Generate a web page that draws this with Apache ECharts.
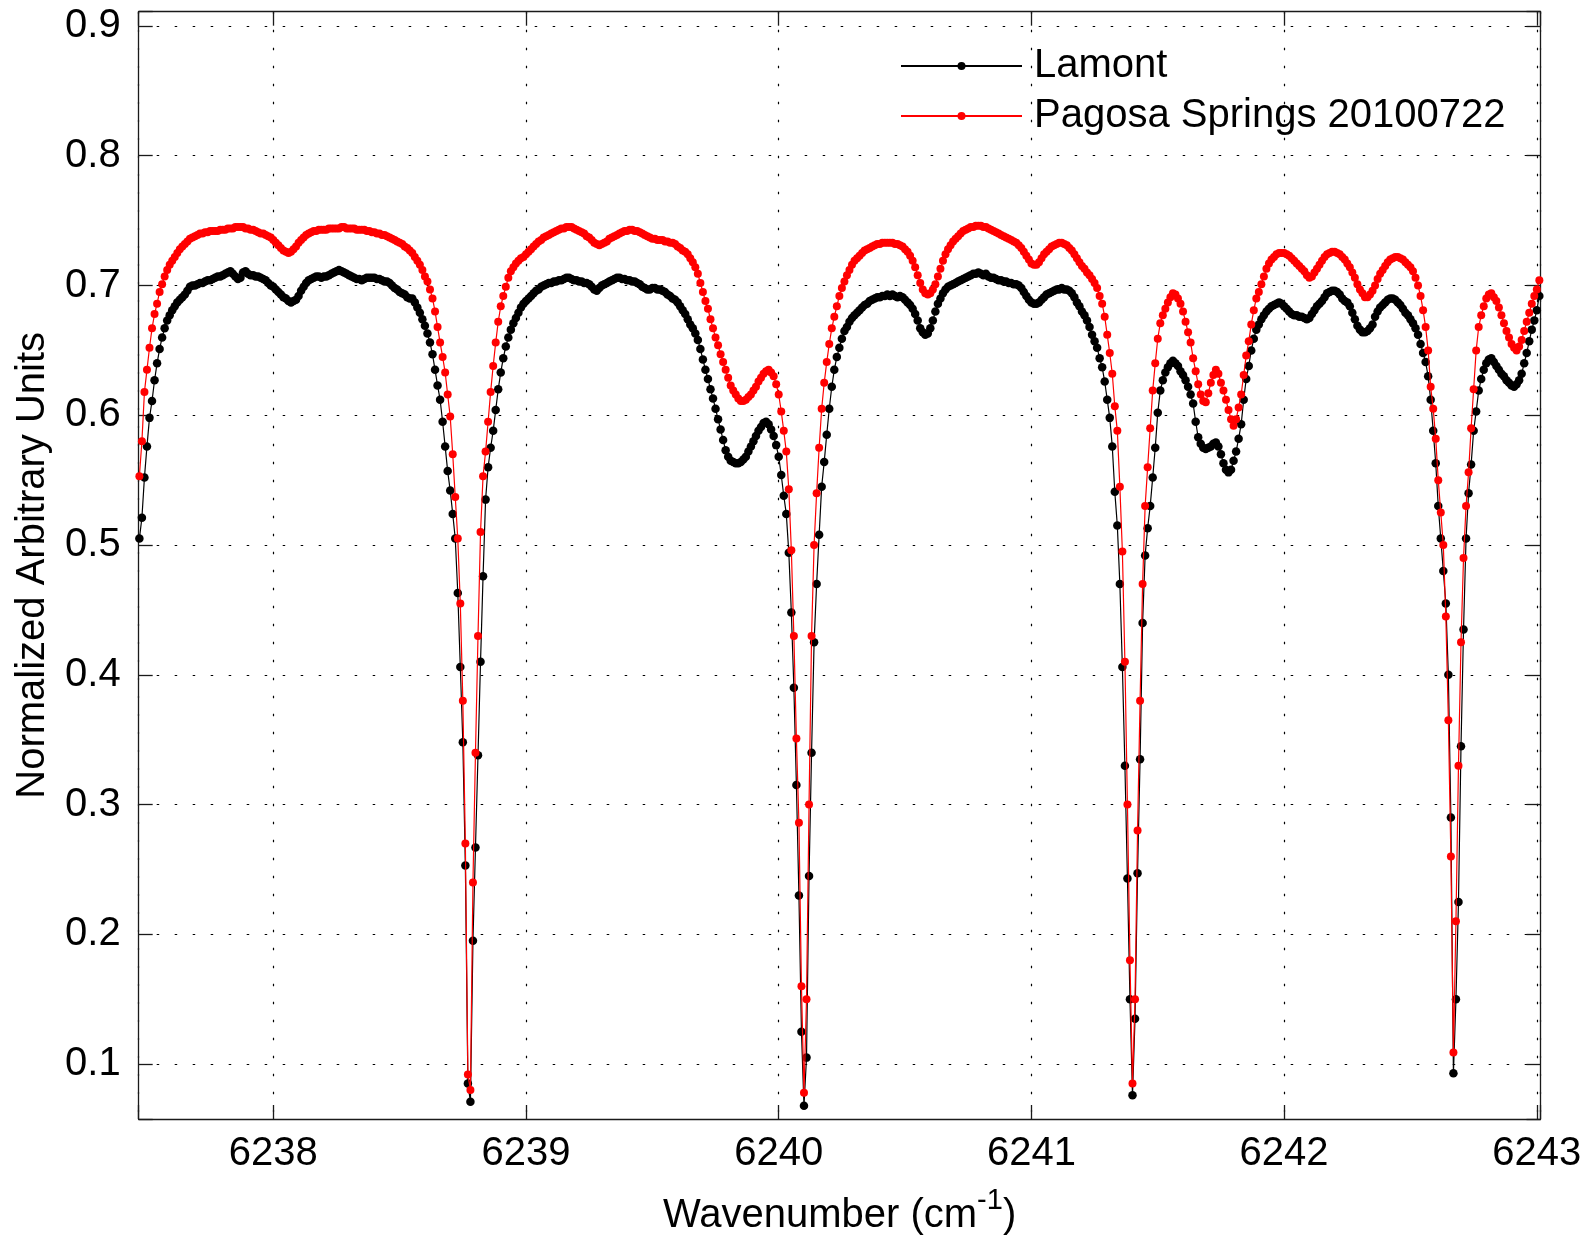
<!DOCTYPE html>
<html>
<head>
<meta charset="utf-8">
<script src="https://cdn.jsdelivr.net/npm/echarts@6/dist/echarts.min.js"></script>
<style>
html,body{margin:0;padding:0;background:#fff;}
#chart{width:1585px;height:1237px;}
</style>
</head>
<body>
<div id="chart"></div>
<script>
// Wavenumber grid (cm-1): regular spectral sampling
const X0 = 6237.47;
const DX = 0.01;

const seriesNames = ['Lamont', 'Pagosa Springs 20100722'];

// Lamont (black), one value per grid point
const lamont = [
0.505,0.521,0.552,0.576,0.598,0.611,0.627,0.640,0.651,0.660,
0.667,0.673,0.677,0.681,0.684,0.687,0.689,0.691,0.693,0.696,
0.699,0.700,0.700,0.701,0.702,0.702,0.703,0.704,0.704,0.705,
0.706,0.707,0.707,0.708,0.709,0.710,0.711,0.709,0.707,0.705,
0.706,0.710,0.711,0.709,0.708,0.708,0.707,0.707,0.706,0.705,
0.704,0.702,0.700,0.699,0.697,0.695,0.693,0.691,0.690,0.688,
0.687,0.688,0.689,0.692,0.696,0.699,0.702,0.704,0.705,0.706,
0.707,0.707,0.706,0.707,0.707,0.708,0.709,0.710,0.711,0.712,
0.711,0.710,0.709,0.708,0.707,0.706,0.705,0.705,0.704,0.705,
0.706,0.706,0.706,0.706,0.705,0.705,0.704,0.703,0.703,0.702,
0.700,0.698,0.697,0.695,0.694,0.693,0.691,0.690,0.690,0.687,
0.683,0.679,0.674,0.669,0.663,0.656,0.647,0.635,0.623,0.612,
0.595,0.576,0.557,0.542,0.524,0.505,0.463,0.406,0.348,0.253,
0.085,0.071,0.195,0.267,0.338,0.410,0.476,0.535,0.560,0.575,
0.588,0.604,0.620,0.633,0.644,0.653,0.660,0.666,0.671,0.675,
0.679,0.683,0.686,0.688,0.690,0.692,0.694,0.696,0.697,0.699,
0.700,0.701,0.702,0.702,0.703,0.703,0.704,0.704,0.705,0.706,
0.706,0.705,0.704,0.704,0.703,0.703,0.702,0.702,0.701,0.699,
0.697,0.696,0.698,0.700,0.701,0.702,0.703,0.704,0.705,0.706,
0.706,0.705,0.705,0.704,0.704,0.703,0.703,0.702,0.701,0.699,
0.698,0.697,0.697,0.698,0.698,0.697,0.697,0.696,0.695,0.693,
0.692,0.690,0.689,0.687,0.684,0.681,0.678,0.674,0.670,0.667,
0.663,0.658,0.651,0.643,0.635,0.628,0.620,0.613,0.605,0.597,
0.589,0.581,0.573,0.568,0.565,0.564,0.563,0.563,0.564,0.566,
0.568,0.572,0.576,0.580,0.584,0.588,0.591,0.594,0.595,0.593,
0.589,0.584,0.577,0.568,0.554,0.538,0.524,0.494,0.448,0.390,
0.315,0.230,0.125,0.068,0.105,0.245,0.340,0.425,0.470,0.508,
0.545,0.564,0.585,0.605,0.622,0.635,0.645,0.652,0.659,0.665,
0.668,0.672,0.675,0.677,0.679,0.681,0.683,0.685,0.686,0.688,
0.689,0.690,0.691,0.691,0.692,0.692,0.693,0.692,0.693,0.692,
0.691,0.692,0.691,0.689,0.687,0.685,0.682,0.678,0.673,0.667,
0.664,0.662,0.663,0.667,0.673,0.680,0.686,0.690,0.694,0.697,
0.699,0.700,0.701,0.702,0.703,0.704,0.705,0.706,0.707,0.708,
0.709,0.709,0.710,0.709,0.708,0.709,0.707,0.706,0.706,0.705,
0.704,0.704,0.703,0.703,0.702,0.702,0.701,0.701,0.700,0.698,
0.695,0.692,0.689,0.687,0.686,0.686,0.687,0.689,0.691,0.693,
0.694,0.695,0.696,0.697,0.697,0.698,0.697,0.697,0.696,0.694,
0.691,0.687,0.684,0.680,0.677,0.673,0.668,0.662,0.657,0.652,
0.644,0.637,0.626,0.612,0.598,0.576,0.541,0.515,0.470,0.406,
0.330,0.243,0.150,0.076,0.135,0.247,0.335,0.440,0.492,0.513,
0.530,0.552,0.575,0.602,0.619,0.627,0.633,0.637,0.640,0.642,
0.640,0.638,0.634,0.631,0.627,0.622,0.616,0.609,0.595,0.583,
0.578,0.575,0.574,0.575,0.576,0.578,0.579,0.576,0.570,0.563,
0.558,0.556,0.558,0.565,0.572,0.582,0.593,0.612,0.628,0.638,
0.650,0.659,0.666,0.670,0.674,0.677,0.680,0.682,0.684,0.685,
0.686,0.687,0.686,0.684,0.682,0.680,0.678,0.677,0.677,0.676,
0.676,0.675,0.674,0.675,0.678,0.681,0.684,0.686,0.688,0.691,
0.694,0.695,0.696,0.696,0.695,0.693,0.690,0.688,0.687,0.684,
0.679,0.674,0.669,0.666,0.664,0.664,0.665,0.667,0.670,0.676,
0.680,0.683,0.685,0.687,0.689,0.690,0.690,0.689,0.687,0.685,
0.682,0.679,0.677,0.674,0.671,0.667,0.662,0.655,0.648,0.641,
0.630,0.612,0.588,0.563,0.530,0.505,0.480,0.455,0.400,0.290,
0.093,0.150,0.225,0.345,0.435,0.505,0.540,0.562,0.588,0.603,
0.619,0.628,0.635,0.640,0.643,0.644,0.641,0.638,0.635,0.632,
0.630,0.627,0.625,0.623,0.622,0.624,0.627,0.632,0.640,0.648,
0.657,0.666,0.673,0.681,0.692
];

// Pagosa Springs 20100722 (red), one value per grid point
const pagosa = [
0.553,0.580,0.618,0.635,0.652,0.667,0.678,0.686,0.695,0.701,
0.707,0.712,0.716,0.719,0.722,0.725,0.728,0.730,0.732,0.734,
0.736,0.737,0.738,0.739,0.740,0.740,0.741,0.741,0.742,0.742,
0.742,0.742,0.743,0.743,0.743,0.744,0.744,0.744,0.745,0.745,
0.745,0.745,0.744,0.744,0.743,0.743,0.742,0.741,0.740,0.740,
0.739,0.738,0.737,0.735,0.733,0.731,0.729,0.727,0.726,0.725,
0.726,0.728,0.730,0.733,0.735,0.737,0.739,0.740,0.741,0.742,
0.742,0.743,0.743,0.743,0.743,0.744,0.744,0.744,0.744,0.744,
0.745,0.745,0.744,0.744,0.744,0.744,0.743,0.743,0.743,0.743,
0.742,0.742,0.741,0.741,0.740,0.740,0.739,0.739,0.738,0.737,
0.736,0.735,0.734,0.733,0.732,0.730,0.729,0.727,0.725,0.722,
0.719,0.716,0.712,0.707,0.703,0.697,0.690,0.680,0.668,0.656,
0.645,0.633,0.616,0.599,0.570,0.537,0.505,0.455,0.380,0.270,
0.092,0.080,0.240,0.340,0.430,0.510,0.553,0.572,0.595,0.618,
0.638,0.656,0.672,0.684,0.692,0.699,0.706,0.711,0.714,0.717,
0.719,0.721,0.722,0.724,0.726,0.728,0.730,0.732,0.734,0.735,
0.737,0.738,0.739,0.740,0.741,0.742,0.743,0.744,0.744,0.745,
0.745,0.745,0.744,0.743,0.742,0.741,0.740,0.738,0.737,0.735,
0.733,0.732,0.731,0.732,0.733,0.734,0.736,0.737,0.738,0.739,
0.740,0.741,0.742,0.742,0.743,0.743,0.742,0.742,0.741,0.740,
0.739,0.738,0.737,0.736,0.736,0.735,0.735,0.735,0.734,0.734,
0.733,0.733,0.732,0.730,0.729,0.727,0.726,0.724,0.721,0.718,
0.714,0.709,0.702,0.695,0.688,0.682,0.674,0.667,0.660,0.654,
0.647,0.641,0.635,0.629,0.623,0.619,0.616,0.613,0.611,0.611,
0.612,0.614,0.616,0.619,0.622,0.626,0.629,0.632,0.634,0.635,
0.633,0.630,0.624,0.616,0.603,0.588,0.572,0.543,0.496,0.430,
0.351,0.286,0.160,0.078,0.150,0.300,0.430,0.500,0.540,0.575,
0.605,0.625,0.641,0.655,0.667,0.676,0.684,0.692,0.698,0.703,
0.708,0.712,0.716,0.719,0.721,0.723,0.725,0.727,0.728,0.729,
0.730,0.731,0.732,0.732,0.733,0.733,0.733,0.733,0.733,0.732,
0.732,0.731,0.730,0.728,0.726,0.723,0.719,0.714,0.708,0.702,
0.697,0.694,0.693,0.694,0.697,0.701,0.707,0.713,0.719,0.724,
0.728,0.731,0.734,0.736,0.738,0.740,0.742,0.743,0.744,0.745,
0.745,0.746,0.746,0.746,0.745,0.745,0.744,0.743,0.742,0.741,
0.740,0.739,0.738,0.737,0.736,0.735,0.734,0.733,0.731,0.729,
0.726,0.723,0.720,0.717,0.716,0.716,0.718,0.721,0.724,0.726,
0.728,0.730,0.731,0.732,0.733,0.733,0.732,0.731,0.729,0.727,
0.724,0.721,0.718,0.715,0.713,0.710,0.708,0.705,0.702,0.698,
0.692,0.686,0.676,0.662,0.648,0.632,0.607,0.588,0.545,0.495,
0.410,0.300,0.180,0.085,0.150,0.280,0.380,0.470,0.530,0.560,
0.590,0.619,0.640,0.659,0.671,0.677,0.682,0.687,0.691,0.694,
0.693,0.690,0.686,0.680,0.672,0.664,0.656,0.644,0.634,0.624,
0.616,0.611,0.610,0.617,0.625,0.631,0.635,0.632,0.625,0.619,
0.612,0.604,0.597,0.592,0.597,0.606,0.616,0.631,0.646,0.657,
0.670,0.681,0.690,0.695,0.701,0.707,0.713,0.717,0.720,0.722,
0.724,0.725,0.725,0.725,0.724,0.723,0.721,0.719,0.717,0.715,
0.713,0.711,0.708,0.706,0.707,0.710,0.713,0.716,0.719,0.722,
0.724,0.725,0.726,0.726,0.725,0.724,0.722,0.720,0.717,0.714,
0.710,0.706,0.701,0.697,0.694,0.691,0.691,0.693,0.696,0.700,
0.705,0.709,0.712,0.715,0.718,0.720,0.721,0.722,0.722,0.721,
0.720,0.718,0.716,0.714,0.711,0.706,0.700,0.692,0.681,0.668,
0.650,0.622,0.605,0.582,0.550,0.525,0.500,0.445,0.365,0.260,
0.109,0.210,0.330,0.425,0.490,0.530,0.556,0.590,0.620,0.650,
0.668,0.677,0.684,0.690,0.693,0.694,0.691,0.688,0.683,0.677,
0.671,0.665,0.660,0.655,0.652,0.650,0.653,0.658,0.665,0.672,
0.679,0.686,0.692,0.697,0.704
];

// Axis ranges and labels
const xRange = [6237.4673, 6243.0146];
const yRange = [0.0577, 0.9110];
const xTickLabels = [6238, 6239, 6240, 6241, 6242, 6243];
const yTickLabels = [0.1, 0.2, 0.3, 0.4, 0.5, 0.6, 0.7, 0.8, 0.9];

const FONT = '"Liberation Sans", Arial, Helvetica, sans-serif';

function toPairs(vals) {
  return vals.map((v, i) => [+(X0 + i * DX).toFixed(2), v]);
}

const chart = echarts.init(document.getElementById('chart'), null, {renderer: 'canvas'});

const axisLineStyle = {color: '#1a1a1a', width: 1.3};
const gridLineStyle = {color: '#000', width: 1.2, type: [2.5, 15.5]};

function xLabelFmt(v) {
  for (const t of xTickLabels) if (Math.abs(v - t) < 1e-6) return String(t);
  return '';
}
function yLabelFmt(v) {
  for (const t of yTickLabels) if (Math.abs(v - t) < 1e-6) return t.toFixed(1);
  return '';
}

const option = {
  animation: false,
  backgroundColor: '#fff',
  grid: {left: 138.7, right: 44.5, top: 11.7, bottom: 118, containLabel: false, outerBoundsMode: 'none'},
  legend: {
    data: seriesNames,
    orient: 'vertical',
    left: 900,
    top: 44,
    padding: 0,
    itemWidth: 121,
    itemHeight: 10,
    itemGap: 6,
    textStyle: {fontSize: 40, color: '#000', fontFamily: FONT, lineHeight: 44, padding: [0, 0, 0, 7]}
  },
  xAxis: [
    {
      type: 'value', position: 'bottom', min: xRange[0], max: xRange[1], splitNumber: 5,
      axisLine: {show: true, onZero: false, lineStyle: axisLineStyle},
      axisTick: {show: true, inside: true, length: 14, lineStyle: axisLineStyle},
      axisLabel: {formatter: xLabelFmt, fontSize: 40, color: '#000', fontFamily: FONT, margin: 15},
      splitLine: {show: true, lineStyle: gridLineStyle},
      name: '{a|Wavenumber (cm}{s|-1}{a|)}',
      nameLocation: 'middle',
      nameGap: 67,
      nameTextStyle: {
        rich: {
          a: {fontSize: 40, color: '#000', fontFamily: FONT},
          s: {fontSize: 29, color: '#000', fontFamily: FONT, padding: [0, 0, 30, 0]}
        }
      }
    },
    {
      type: 'value', position: 'top', min: xRange[0], max: xRange[1], splitNumber: 5,
      axisLine: {show: true, onZero: false, lineStyle: axisLineStyle},
      axisTick: {show: true, inside: true, length: 14, lineStyle: axisLineStyle},
      axisLabel: {show: false},
      splitLine: {show: false}
    }
  ],
  yAxis: [
    {
      type: 'value', position: 'left', min: yRange[0], max: yRange[1], splitNumber: 8,
      axisLine: {show: true, onZero: false, lineStyle: axisLineStyle},
      axisTick: {show: true, inside: true, length: 14, lineStyle: axisLineStyle},
      axisLabel: {formatter: yLabelFmt, fontSize: 40, color: '#000', fontFamily: FONT, margin: 18},
      splitLine: {show: true, lineStyle: gridLineStyle},
      name: 'Normalized Arbitrary Units',
      nameLocation: 'middle',
      nameGap: 86,
      nameRotate: 90,
      nameTextStyle: {fontSize: 40, color: '#000', fontFamily: FONT}
    },
    {
      type: 'value', position: 'right', min: yRange[0], max: yRange[1], splitNumber: 8,
      axisLine: {show: true, onZero: false, lineStyle: axisLineStyle},
      axisTick: {show: true, inside: true, length: 14, lineStyle: axisLineStyle},
      axisLabel: {show: false},
      splitLine: {show: false}
    }
  ],
  series: [
    {
      name: seriesNames[0], type: 'line', xAxisIndex: 0, yAxisIndex: 0,
      data: toPairs(lamont),
      symbol: 'circle', symbolSize: 8.5, showSymbol: true, showAllSymbol: true,
      lineStyle: {color: '#000', width: 1.2},
      itemStyle: {color: '#000', borderWidth: 0},
      emphasis: {disabled: true}, silent: true, z: 2
    },
    {
      name: seriesNames[1], type: 'line', xAxisIndex: 0, yAxisIndex: 0,
      data: toPairs(pagosa),
      symbol: 'circle', symbolSize: 8, showSymbol: true, showAllSymbol: true,
      lineStyle: {color: '#ff0000', width: 1.2},
      itemStyle: {color: '#ff0000', borderWidth: 0},
      emphasis: {disabled: true}, silent: true, z: 3
    }
  ]
};
chart.setOption(option);
</script>
</body>
</html>
